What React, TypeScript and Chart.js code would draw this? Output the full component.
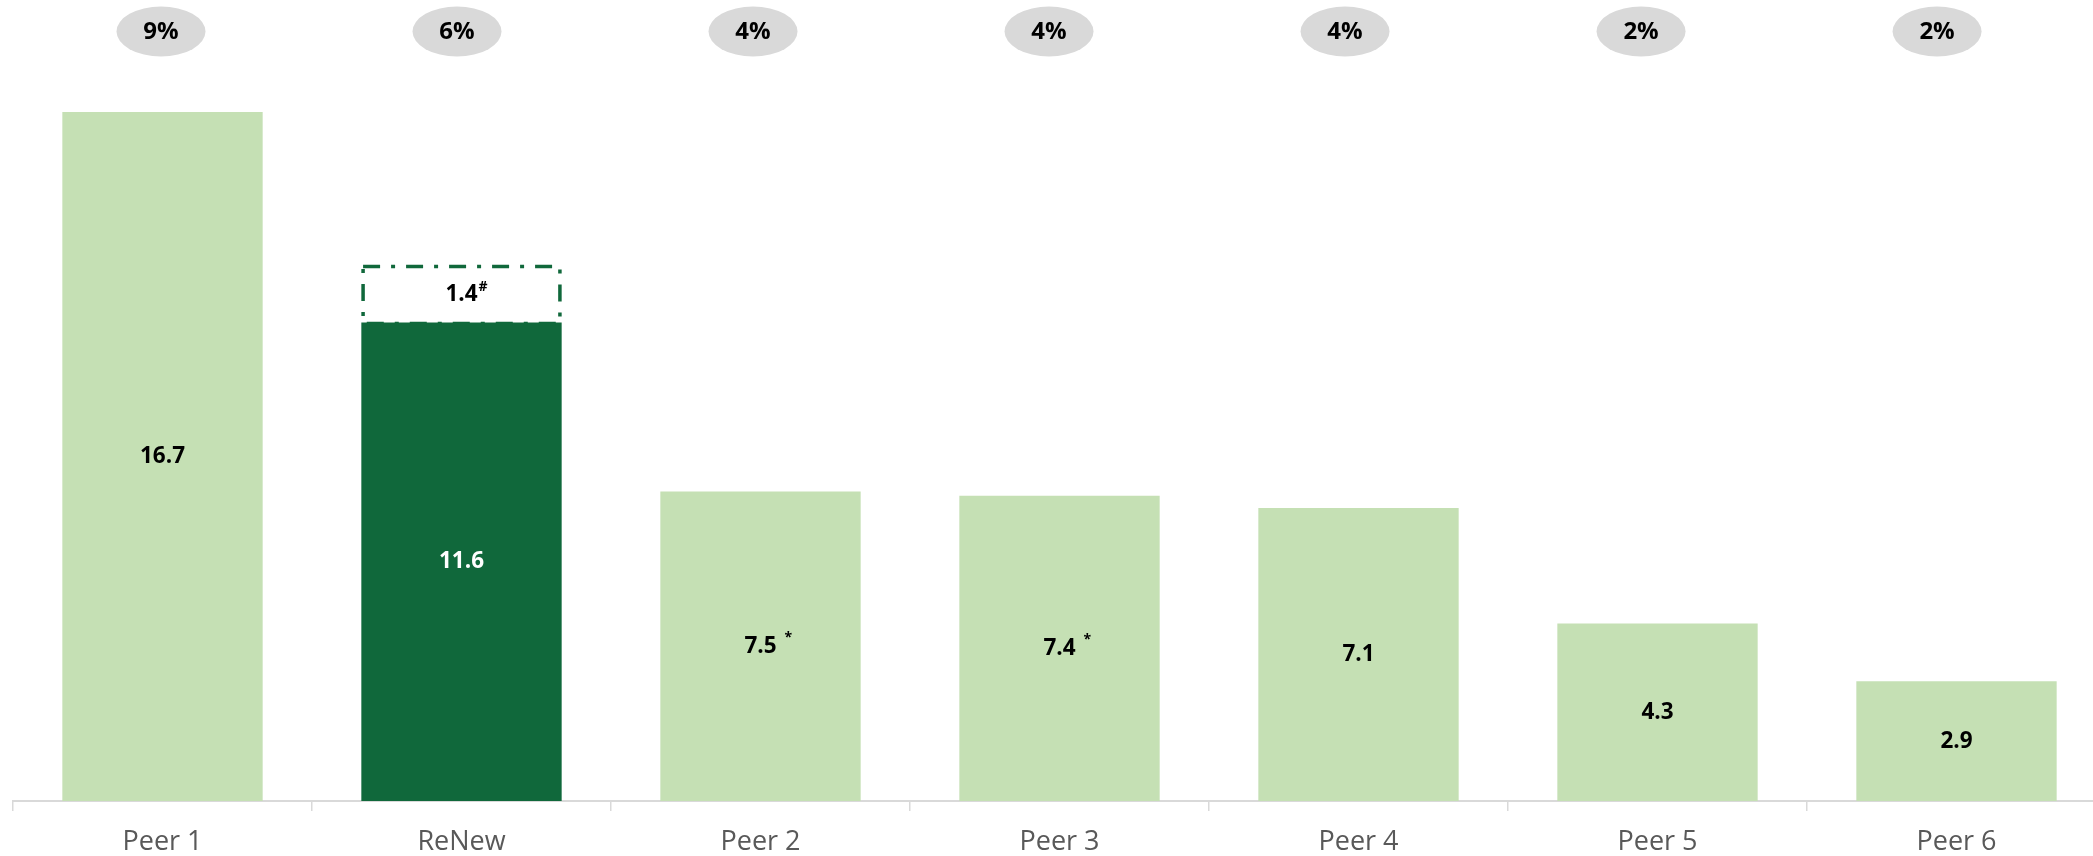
import React, { useEffect, useRef } from 'react';
import { Chart, registerables } from 'chart.js';

Chart.register(...registerables);

const categories = ['Peer 1', 'ReNew', 'Peer 2', 'Peer 3', 'Peer 4', 'Peer 5', 'Peer 6'];
const capacityValues = [16.7, 11.6, 7.5, 7.4, 7.1, 4.3, 2.9];
const pipelineValues = [0, 1.4, 0, 0, 0, 0, 0];
const valueNotes = ['', '', '*', '*', '', '', ''];
const pipelineNotes = ['', '#', '', '', '', '', ''];
const shareLabels = ['9%', '6%', '4%', '4%', '4%', '2%', '2%'];
const highlightIndex = 1;

const LIGHT = '#C5E0B4';
const DARK = '#10683B';
const PILL = '#D9D9D9';
const FONT = "'Open Sans', 'DejaVu Sans', sans-serif";
const PILL_SPREAD = 0.99;

const annotatePlugin = {
  id: 'annotate',
  afterDatasetsDraw(chart: any) {
    const ctx = chart.ctx as CanvasRenderingContext2D;
    const xScale = chart.scales.x;
    const m0 = chart.getDatasetMeta(0);
    const m1 = chart.getDatasetMeta(1);
    ctx.save();

    // dashed pipeline boxes
    m1.data.forEach((bar: any, i: number) => {
      if (!pipelineValues[i]) return;
      const p = bar.getProps(['x', 'y', 'base', 'width'], true);
      const left = p.x - p.width / 2;
      const lw = 3.5;
      ctx.setLineDash([17, 11, 4, 11]);
      ctx.lineWidth = lw;
      ctx.strokeStyle = DARK;
      ctx.strokeRect(left + lw / 2, p.y + lw / 2, p.width - lw, p.base - p.y - lw / 2 + 1);
      ctx.setLineDash([]);
      const cy = (p.y + p.base) / 2;
      drawLabel(ctx, String(pipelineValues[i]), pipelineNotes[i], p.x, cy + 1, '#000');
    });

    // value labels
    m0.data.forEach((bar: any, i: number) => {
      const p = bar.getProps(['x', 'y', 'base'], true);
      const cy = (p.y + p.base) / 2;
      drawLabel(ctx, capacityValues[i].toFixed(1), valueNotes[i], p.x, cy, i === highlightIndex ? '#FFFFFF' : '#000000');
    });

    // share pills
    shareLabels.forEach((s, i) => {
      const cx = xScale.left + (xScale.getPixelForValue(i) - xScale.left) * PILL_SPREAD;
      const cy = 31.5;
      ctx.beginPath();
      ctx.ellipse(cx, cy, 44.5, 25, 0, 0, Math.PI * 2);
      ctx.fillStyle = PILL;
      ctx.fill();
      ctx.fillStyle = '#000';
      ctx.font = `bold 24px ${FONT}`;
      ctx.textAlign = 'center';
      ctx.textBaseline = 'middle';
      ctx.fillText(s, cx, cy + 1);
    });

    ctx.restore();
  },
};

function drawLabel(ctx: CanvasRenderingContext2D, text: string, note: string, cx: number, cy: number, color: string) {
  ctx.fillStyle = color;
  ctx.font = `bold 22.5px ${FONT}`;
  ctx.textAlign = 'center';
  ctx.textBaseline = 'middle';
  ctx.fillText(text, cx, cy);
  if (note) {
    const w = ctx.measureText(text).width;
    ctx.font = `bold 14px ${FONT}`;
    ctx.textAlign = 'left';
    const gap = note === '*' ? 8 : 1;
    ctx.fillText(note, cx + w / 2 + gap, cy - 8);
  }
}

const CANVAS_W = 2106;
const CANVAS_H = 856;

export default function App() {
  const canvasRef = useRef<HTMLCanvasElement | null>(null);

  useEffect(() => {
    document.body.style.margin = '0';
    document.body.style.overflow = 'hidden';
    const canvas = canvasRef.current;
    if (!canvas) return;
    const chart = new Chart(canvas, {
      type: 'bar',
      data: {
        labels: categories,
        datasets: [
          {
            data: capacityValues,
            backgroundColor: capacityValues.map((_, i) => (i === highlightIndex ? DARK : LIGHT)),
            borderWidth: 0,
            barPercentage: 0.67,
            categoryPercentage: 1,
          },
          {
            data: pipelineValues,
            backgroundColor: 'rgba(255,255,255,0)',
            borderWidth: 0,
            barPercentage: 0.67,
            categoryPercentage: 1,
          },
        ],
      },
      options: {
        animation: false,
        responsive: false,
        devicePixelRatio: 1,
        layout: { padding: { top: 112, left: 13, right: 0, bottom: 0 } },
        plugins: {
          legend: { display: false },
          tooltip: { enabled: false },
        },
        scales: {
          x: {
            stacked: true,
            grid: {
              display: true,
              drawOnChartArea: false,
              drawTicks: true,
              tickLength: 10,
              color: '#D9D9D9',
              lineWidth: 1.5,
              offset: true,
            },
            border: { display: true, color: '#D9D9D9', width: 2 },
            ticks: {
              color: '#595959',
              font: { family: FONT, size: 27 },
              padding: 15,
              maxRotation: 0,
              autoSkip: false,
            },
            afterFit: (s: any) => {
              s.height = 55;
            },
          },
          y: {
            stacked: true,
            display: false,
            min: 0,
            max: 16.7,
          },
        },
      },
      plugins: [annotatePlugin],
    } as any);
    return () => chart.destroy();
  }, []);

  return (
    <div style={{ width: 2093, height: 856, position: 'relative', overflow: 'hidden' }}>
      <canvas ref={canvasRef} width={CANVAS_W} height={CANVAS_H} style={{ display: 'block' }} />
    </div>
  );
}
